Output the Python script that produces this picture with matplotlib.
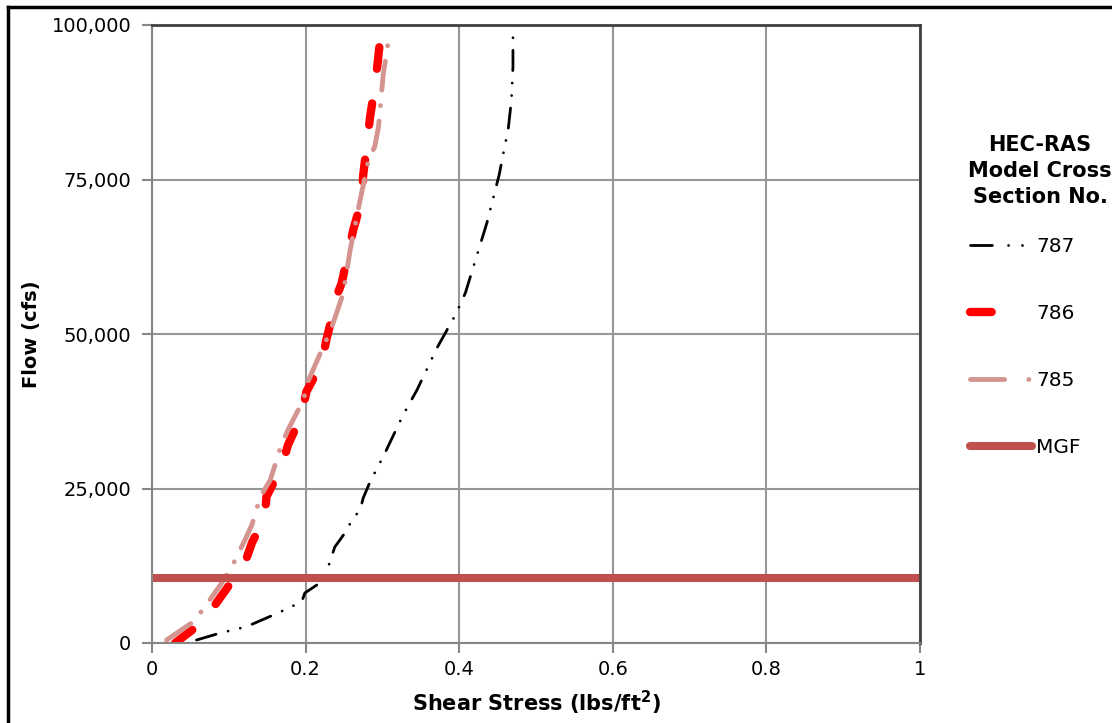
import numpy as np
import matplotlib.pyplot as plt
from matplotlib.lines import Line2D

plt.rcParams['font.family'] = ['DejaVu Sans']

# cross section 787
xs787_stress = [0.058, 0.089, 0.123, 0.164, 0.195, 0.199, 0.221, 0.229, 0.238, 0.254,
                0.260, 0.271, 0.275, 0.284, 0.301, 0.327, 0.345, 0.371, 0.395, 0.408,
                0.436, 0.452, 0.464, 0.468, 0.470, 0.470]
xs787_flow = [485, 1618, 2640, 4854, 6683, 8090, 9919, 12136, 15534, 18285,
              19900, 21520, 23460, 26100, 30150, 36900, 40940, 47730, 53070, 56630,
              67960, 75730, 83330, 87860, 93200, 100000]

# cross section 786
xs786_stress = [0.030, 0.058, 0.082, 0.099, 0.121, 0.130, 0.147, 0.149, 0.169, 0.177,
                0.195, 0.201, 0.221, 0.227, 0.242, 0.247, 0.262, 0.273, 0.275, 0.280,
                0.284, 0.290, 0.294, 0.299]
xs786_flow = [0, 2640, 6150, 9110, 12945, 16180, 20440, 23670, 28530, 32040,
              36890, 40660, 45310, 49030, 56630, 58250, 66830, 71680, 75730, 80900,
              85160, 90020, 94060, 100000]

# cross section 785
xs785_stress = [0.019, 0.054, 0.069, 0.089, 0.104, 0.121, 0.130, 0.141, 0.154, 0.167,
                0.177, 0.197, 0.204, 0.221, 0.232, 0.249, 0.258, 0.271, 0.282, 0.290,
                0.295, 0.301, 0.308]
xs785_flow = [485, 3450, 5870, 9390, 12350, 16670, 19100, 23670, 26380, 31500,
              34470, 39320, 42560, 47410, 50370, 56580, 63590, 71680, 78160, 80310,
              83550, 91910, 97570]

mgf_flow = 10500

dash787 = (7.3, 4.5, 0.01, 4.5, 0.01, 4.5)
dash786 = (2.6, 4.2)
dash785 = (6, 3.2, 0.01, 3.2)

fig = plt.figure(figsize=(11.12, 7.23), dpi=100)
ax = fig.add_axes([152/1112, 80/723, 768/1112, 618/723])

ax.plot(xs787_stress, xs787_flow, color='black', lw=2, dashes=dash787,
        dash_capstyle='round')
ax.plot(xs786_stress, xs786_flow, color='#ff0000', lw=6, dashes=dash786,
        dash_capstyle='round')
ax.plot(xs785_stress, xs785_flow, color='#d49490', lw=3.5, dashes=dash785,
        dash_capstyle='round')
ax.axhline(mgf_flow, color='#c0504d', lw=5.8, solid_capstyle='butt')

ax.set_xlim(0, 1)
ax.set_ylim(0, 100000)
ax.set_xticks(np.arange(0, 1.01, 0.2))
ax.set_xticklabels(['0', '0.2', '0.4', '0.6', '0.8', '1'])
ax.set_yticks(np.arange(0, 100001, 25000))
ax.set_yticklabels(['0', '25,000', '50,000', '75,000', '100,000'])
ax.grid(True, color='#969696', lw=1.5)
ax.set_axisbelow(True)
ax.tick_params(axis='both', colors='#868686', labelcolor='black', labelsize=14,
               length=7, width=1.5, direction='out')
ax.tick_params(axis='x', pad=5)
ax.tick_params(axis='y', pad=8)
for s in ['left', 'bottom']:
    ax.spines[s].set_color('#868686')
    ax.spines[s].set_linewidth(1.5)
for s in ['top', 'right']:
    ax.spines[s].set_color('#404040')
    ax.spines[s].set_linewidth(2)

ax.set_xlabel('Shear Stress (lbs/ft$^\\mathbf{2}$)', fontsize=15, fontweight='bold', labelpad=7)
ax.set_ylabel('Flow (cfs)', fontsize=14, fontweight='bold', labelpad=7.5)

# legend samples (Excel shows only one pattern repeat)
handles = [
    Line2D([], [], color='black', lw=2, dashes=(7.9, 5.8, 0.01, 5, 0.01, 30),
           dash_capstyle='round'),
    Line2D([], [], color='#ff0000', lw=6, dashes=(2.6, 20), dash_capstyle='round'),
    Line2D([], [], color='#d49490', lw=3.5, dashes=(7, 5, 0.01, 30), dash_capstyle='round'),
    Line2D([], [], color='#c0504d', lw=5.8, solid_capstyle='round'),
]
leg = fig.legend(handles, ['787', '786', '785', 'MGF'],
                 loc='center left', bbox_to_anchor=(952/1112, 1 - 347/723),
                 frameon=False, fontsize=14.5,
                 handlelength=3.08, handletextpad=0.2, labelspacing=2.39)

fig.text(1040/1112, 1 - 171/723, 'HEC-RAS\nModel Cross\nSection No.',
         ha='center', va='center', fontsize=15, fontweight='bold', linespacing=1.35)

# outer frame lines
fig.add_artist(Line2D([8/1112, 1], [1 - 7/723, 1 - 7/723], color='black', lw=2.5,
                      transform=fig.transFigure))
fig.add_artist(Line2D([8/1112, 8/1112], [0, 1 - 7/723], color='black', lw=2.5,
                      transform=fig.transFigure))

fig.savefig('out.png', dpi=100)
